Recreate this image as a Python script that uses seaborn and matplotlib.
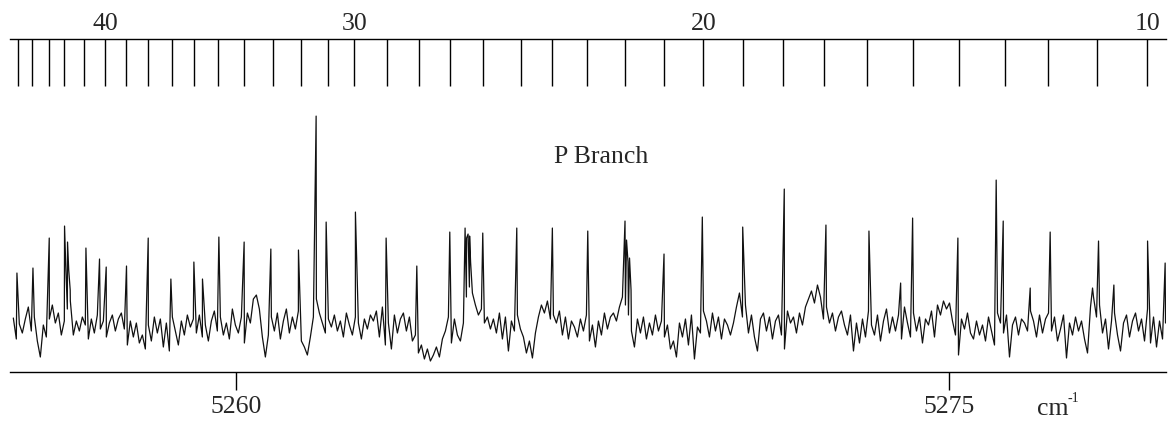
import matplotlib
matplotlib.use("Agg")
import matplotlib.pyplot as plt
import numpy as np
import pandas as pd
import seaborn as sns

# rotational lines of the P branch: J number and line position (cm-1)
j_numbers = list(range(45, 9, -1))
j_positions = [5255.399, 5255.702, 5256.051, 5256.367, 5256.787, 5257.244, 5257.686,
               5258.142, 5258.647, 5259.123, 5259.628, 5260.175, 5260.785, 5261.361,
               5261.942, 5262.483, 5263.183, 5263.856, 5264.502, 5265.203, 5265.990,
               5266.655, 5267.378, 5268.184, 5269.005, 5269.832, 5270.661, 5271.502,
               5272.371, 5273.282, 5274.237, 5275.218, 5276.179, 5277.090, 5278.109,
               5279.173]

# baseline noise of the trace (arbitrary units)
noise = [9, -12, 3, -6, 8, 20, -4, 10, -14, -30, 2, -10, 8, 22, 4, 14, -8, 6, 18, 26,
         -8, 6, -4, 10, 2, -12, 8, -6, 12, -2, 6, -10, 4, 12, -4, 8, 14, -2, -18, 6,
         -10, 4, -16, -8, -22, 2, -14, 10, -6, 8, -20, 4, -24, 10, -4, -18, 6, -8, 12, 0,
         8, -6, 12, -10, 2, -14, 6, 16, -4, 10, -8, 4, -12, 18, 2, -6, 10, -16, 14, 4,
         28, 32, 18, -10, -30, -8, 10, -4, 14, -12, 6, 18, -6, 10, -2, 16, -14, -20, -28, -10,
         10, 28, 14, 4, -6, 8, 0, 12, -4, 6, -10, 14, 2, -8, 10, 4, -12, 8, -2, 12,
         6, 16, -10, 20, -18, 4, -22, 12, -6, 8, 14, -4, 10, -14, -8, -26, -18, -32, -22, -34,
         -28, -20, -30, -12, -4, 10, -16, 8, -8, -14, 4, 30, 40, 34, 22, 12, 18, 4, 10, -2,
         8, -6, 14, -12, 10, -24, 6, -4, 12, -2, -10, -26, -14, -31, -6, 10, 22, 14, 26, 8,
         12, 4, 16, -8, 10, -12, 6, 0, -10, 8, -4, 12, -14, 2, -20, 6, -8, 14, -2, 10,
         14, 6, 20, 30, 22, 12, -4, -20, 8, -6, 10, -12, 4, -8, 12, -4, 6, -10, 2, -22,
         -14, -30, 4, -10, 8, -18, 12, -32, 0, -6, 16, 6, -10, 14, -4, 10, -12, 8, 2, -8,
         4, 20, 34, 10, 22, -6, 12, -10, -24, 8, 14, -4, 10, -12, 6, 12, -8, -22, 16, 4,
         10, -6, 14, 2, 20, 28, 36, 24, 42, 30, 8, 20, 4, 14, -4, 10, 16, 2, -8, 12,
         -24, 4, -16, 8, -10, 16, 2, -8, 12, -14, 6, 18, -6, 10, -4, 12, -12, 20, 4, -10,
         14, -4, 10, -16, 8, 2, 16, -10, 22, 12, 26, 18, 24, 6, -8, -28, 8, -2, 14, -6,
         -12, 6, -8, 2, -14, 10, -4, -18, 14, 4, -6, 12, -30, 2, 10, -8, 8, 4, -4, 16,
         6, -10, 12, -6, 8, 14, -4, 10, -14, -2, 12, -31, 4, -8, 10, -4, 6, -12, -26, 20,
         30, 10, 22, -6, 8, -22, 6, 14, -8, -24, 4, 12, -10, 6, 14, -4, 8, -14, 18, -16,
         10, -20, 6, -12, 4]
noise_start, noise_end = 5255.31, 5279.56

# peak tops (cm-1, height above baseline)
peak_pos = [5255.386, 5255.723, 5256.066, 5256.388, 5256.413, 5256.451, 5256.476, 5256.507,
            5256.838, 5257.124, 5257.265, 5257.692, 5258.149, 5258.626, 5259.110, 5259.291,
            5259.636, 5260.168, 5260.730, 5261.311, 5261.683, 5261.894, 5262.510, 5263.156,
            5263.802, 5264.496, 5264.818, 5264.850, 5264.881, 5264.913, 5264.934, 5265.190,
            5265.906, 5266.655, 5267.400, 5268.184, 5268.216, 5268.247, 5268.279, 5268.311,
            5269.005, 5269.811, 5270.661, 5271.536, 5272.413, 5273.318, 5273.985, 5274.237,
            5275.190, 5275.996, 5276.144, 5276.712, 5277.132, 5278.024, 5278.150, 5278.473,
            5279.182, 5279.552]
peak_height = [54, 59, 89, 101, 62, 85, 57, 37,
               79, 68, 60, 61, 89, 48, 65, 48,
               90, 85, 78, 77, 211, 105, 115, 89,
               61, 95, 99, 89, 93, 91, 65, 94,
               99, 99, 96, 106, 87, 65, 69, 37,
               73, 110, 100, 138, 102, 96, 44, 109,
               89, 147, 106, 39, 95, 39, 86, 42,
               86, 64]

x_ticks = [5260, 5275]
x_min, x_max = 5255.24, 5279.57

# build the trace
df = pd.concat([
    pd.DataFrame({"wn": np.linspace(noise_start, noise_end, len(noise)), "I": noise}),
    pd.DataFrame({"wn": peak_pos, "I": peak_height}),
]).sort_values("wn").reset_index(drop=True)

sns.set_style("white")
plt.rcParams["font.family"] = ["Liberation Serif", "DejaVu Serif"]

fig = plt.figure(figsize=(11.68, 4.22), dpi=100)
left, width = 10 / 1168, 1156 / 1168

# spectrum
ax = fig.add_axes([left, 0.1178, width, 0.645])
sns.lineplot(data=df, x="wn", y="I", ax=ax, sort=False, estimator=None,
             color="#111111", linewidth=0.9)
ax.set_xlim(x_min, x_max)
ax.set_ylim(-45.3, 227)
for s in ["top", "left", "right"]:
    ax.spines[s].set_visible(False)
ax.spines["bottom"].set_color("black")
ax.spines["bottom"].set_linewidth(1.0)
ax.set_yticks([])
ax.set_xticks(x_ticks, [str(t) for t in x_ticks])
ax.tick_params(axis="x", direction="out", length=13, width=1.0, color="black",
               pad=4, labelsize=18.5, bottom=True)
ax.set_xlabel("")
ax.set_ylabel("")

# J ruler on top
ax_j = fig.add_axes([left, 0.9064 - 0.001, width, 0.001])
ax_j.set_xlim(x_min, x_max)
ax_j.set_ylim(0, 1)
for s in ["bottom", "left", "right"]:
    ax_j.spines[s].set_visible(False)
ax_j.spines["top"].set_color("black")
ax_j.spines["top"].set_linewidth(1.0)
ax_j.set_yticks([])
ax_j.set_xticks(j_positions, [str(j) if j % 10 == 0 else "" for j in j_numbers])
ax_j.xaxis.set_ticks_position("top")
ax_j.tick_params(axis="x", direction="in", length=34, width=1.0, color="black",
                 pad=3, labelsize=18.5, top=True, bottom=False,
                 labeltop=True, labelbottom=False)

fig.text(601 / 1168, 1 - 157 / 422, "P Branch", ha="center", va="center", fontsize=18.5)
fig.text(1037 / 1168, 1 - 409 / 422, "cm", ha="left", va="center", fontsize=18.5)
fig.text(1067 / 1168, 1 - 399 / 422, "-1", ha="left", va="center", fontsize=10)

fig.savefig("out.png", dpi=100)
